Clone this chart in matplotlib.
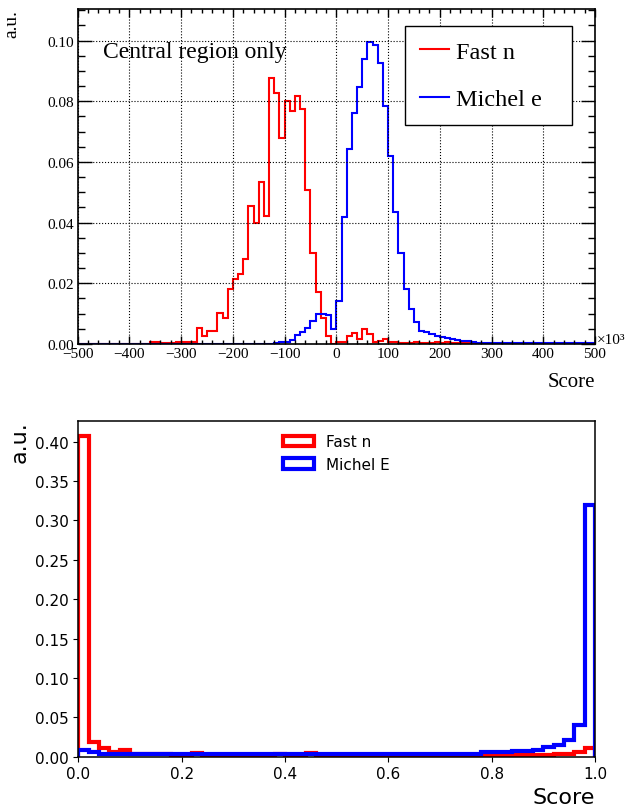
import numpy as np
import matplotlib
matplotlib.use('Agg')
import matplotlib.pyplot as plt
from matplotlib.ticker import MultipleLocator, FormatStrFormatter

# ---- top panel: BDT-like score, 100 bins from -500 to 500 (x10^3) ----
top_edges = np.linspace(-500, 500, 101)

top_fast_n = ([0.0] * 14 +
              [0.0008, 0.0008, 0.0003, 0.0003, 0.0003, 0.0008, 0.0008, 0.0008, 0.0008,
               0.0052, 0.0025, 0.0042, 0.0042, 0.0102, 0.0085, 0.0180, 0.0214, 0.0230,
               0.0280, 0.0456, 0.0398, 0.0533, 0.0423, 0.0877, 0.0827, 0.0679, 0.0800,
               0.0767, 0.0816, 0.0773, 0.0508, 0.0301, 0.0170, 0.0085, 0.0025, 0.0000,
               0.0008, 0.0008, 0.0027, 0.0035, 0.0016, 0.0049, 0.0033, 0.0008, 0.0011,
               0.0016, 0.0008, 0.0008, 0.0003, 0.0003, 0.0003, 0.0008, 0.0002, 0.0002,
               0.0002, 0.0008, 0.0003, 0.0008, 0.0002, 0.0002, 0.0002, 0.0002] +
              [0.0] * 24)

top_michel_e = ([0.0] * 30 + [0.0001] * 8 +
                [0.0003, 0.0006, 0.0008, 0.0012, 0.0030, 0.0040, 0.0053, 0.0075, 0.0100,
                 0.0100, 0.0097, 0.0051, 0.0143, 0.0420, 0.0643, 0.0760, 0.0848, 0.0939,
                 0.0996, 0.0985, 0.0926, 0.0785, 0.0620, 0.0434, 0.0300, 0.0180, 0.0115,
                 0.0072, 0.0044, 0.0038, 0.0033, 0.0028, 0.0022, 0.0019, 0.0016, 0.0013,
                 0.0011, 0.0009, 0.0008, 0.0005, 0.0005, 0.0005] +
                [0.0003] * 10 + [0.0002] * 10)

# ---- bottom panel: NN score, 50 bins from 0 to 1 ----
bot_edges = np.linspace(0, 1, 51)

bot_fast_n = ([0.407, 0.018, 0.0115, 0.0065, 0.008, 0.003, 0.003, 0.004, 0.0028, 0.0025,
               0.0025, 0.0045] + [0.0025] * 7 + [0.0032, 0.0025, 0.0025, 0.0045] +
              [0.0022] * 19 + [0.002] * 4 + [0.004, 0.004, 0.006, 0.011])

bot_michel_e = ([0.0085, 0.0055, 0.004, 0.0035, 0.0035] + [0.003] * 30 +
                [0.004] * 4 + [0.0055] * 3 +
                [0.0068, 0.0068, 0.0085, 0.012, 0.015, 0.0216, 0.040, 0.320])

serif = 'Liberation Serif'

fig = plt.figure(figsize=(6.25, 8.12), dpi=100)

# ================= top (ROOT-looking) =================
ax1 = fig.add_axes([0.1243, 0.5751, 0.8277, 0.4126])
ax1.stairs(top_fast_n, top_edges, color='#ff0000', lw=1.5, baseline=0, label='Fast n')
ax1.stairs(top_michel_e, top_edges, color='#0000ff', lw=1.5, baseline=0, label='Michel e')
ax1.set_xlim(-500, 500)
ax1.set_ylim(0, 0.1104)

ax1.xaxis.set_major_locator(MultipleLocator(100))
ax1.xaxis.set_minor_locator(MultipleLocator(20))
ax1.yaxis.set_major_locator(MultipleLocator(0.02))
ax1.yaxis.set_minor_locator(MultipleLocator(0.005))
ax1.yaxis.set_major_formatter(FormatStrFormatter('%.2f'))
ax1.tick_params(which='both', direction='in', top=True, right=True, width=1.0)
ax1.tick_params(axis='x', which='major', length=6)
ax1.tick_params(axis='x', which='minor', length=3)
ax1.tick_params(axis='y', which='major', length=10)
ax1.tick_params(axis='y', which='minor', length=5)
ax1.tick_params(axis='x', which='major', labelsize=11, pad=2)
ax1.tick_params(axis='y', which='major', labelsize=11, pad=3)
for lab in ax1.get_xticklabels() + ax1.get_yticklabels():
    lab.set_fontfamily(serif)
for sp in ax1.spines.values():
    sp.set_linewidth(1.2)
ax1.grid(True, which='major', color='black', linestyle=':', linewidth=0.8)

ax1.set_ylabel('a.u.', fontfamily=serif, fontsize=14, loc='top')
ax1.yaxis.set_label_coords(-0.1115, 1.0)
ax1.set_xlabel('Score', fontfamily=serif, fontsize=15, loc='right')
ax1.xaxis.set_label_coords(1.0, -0.083)

ax1.text(0.049, 0.872, 'Central region only', transform=ax1.transAxes,
         fontfamily=serif, fontsize=17, ha='left', va='center')
fig.text(0.9552, 0.5804, '\u00d710\u00b3', fontfamily=serif, fontsize=11,
         ha='left', va='center')

leg1 = ax1.legend(loc='upper left', bbox_to_anchor=(0.6327, 0.6627, 0.323, 0.2863),
                  mode='expand', borderaxespad=0, fancybox=False, framealpha=1,
                  edgecolor='black', prop={'family': serif, 'size': 17.5},
                  handlelength=1.2, handletextpad=0.3, borderpad=0.6,
                  labelspacing=1.05)
leg1.get_frame().set_linewidth(1.0)

# ================= bottom (matplotlib default look) =================
ax2 = fig.add_axes([0.1253, 0.0669, 0.8267, 0.4138])
bc = (bot_edges[:-1] + bot_edges[1:]) / 2
ax2.hist(bc, bins=bot_edges, weights=bot_fast_n, histtype='step', color='red',
         lw=3, label='Fast n')
ax2.hist(bc, bins=bot_edges, weights=bot_michel_e, histtype='step', color='blue',
         lw=3, label='Michel E')
ax2.set_xlim(0, 1)
ax2.set_ylim(0, 0.4265)
ax2.tick_params(labelsize=11)
for sp in ax2.spines.values():
    sp.set_linewidth(1.1)
ax2.set_xlabel('Score', fontsize=16, loc='right')
ax2.set_ylabel('a.u.', fontsize=16, loc='top')
ax2.legend(loc='upper center', frameon=False, fontsize=11)

fig.savefig('out.png', dpi=100)
